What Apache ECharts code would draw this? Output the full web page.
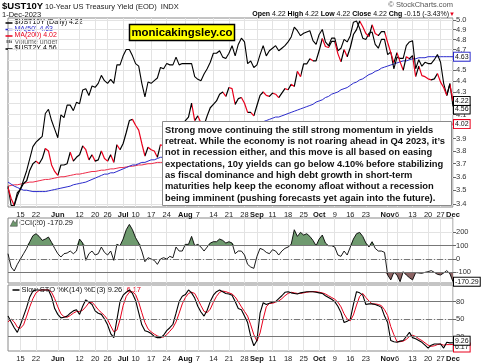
<!DOCTYPE html>
<html><head><meta charset="utf-8">
<script src="https://cdn.jsdelivr.net/npm/echarts@6/dist/echarts.min.js"></script>
<style>html,body{margin:0;padding:0;background:#fff}#c{width:482px;height:363px}</style>
</head><body><div id="c"></div>
<script>
const dates = ['5/9','5/10','5/11','5/12','5/15','5/16','5/17','5/18','5/19','5/22','5/23','5/24','5/25','5/26','5/30','5/31',
'6/1','6/2','6/5','6/6','6/7','6/8','6/9','6/12','6/13','6/14','6/15','6/16','6/20','6/21','6/22','6/23','6/26','6/27','6/28','6/29','6/30',
'7/3','7/5','7/6','7/7','7/10','7/11','7/12','7/13','7/14','7/17','7/18','7/19','7/20','7/21','7/24','7/25','7/26','7/27','7/28','7/31',
'8/1','8/2','8/3','8/4','8/7','8/8','8/9','8/10','8/11','8/14','8/15','8/16','8/17','8/18','8/21','8/22','8/23','8/24','8/25','8/28','8/29','8/30','8/31',
'9/1','9/5','9/6','9/7','9/8','9/11','9/12','9/13','9/14','9/15','9/18','9/19','9/20','9/21','9/22','9/25','9/26','9/27','9/28','9/29',
'10/2','10/3','10/4','10/5','10/6','10/9','10/10','10/11','10/12','10/13','10/16','10/17','10/18','10/19','10/20','10/23','10/24','10/25','10/26','10/27','10/30','10/31',
'11/1','11/2','11/3','11/6','11/7','11/8','11/9','11/10','11/13','11/14','11/15','11/16','11/17','11/20','11/21','11/22','11/24','11/27','11/28','11/29','11/30',
'12/1'];
const ust10y = [3.52,3.44,3.39,3.46,3.51,3.55,3.57,3.65,3.70,3.72,3.70,3.74,3.82,3.80,3.69,3.64,
3.61,3.69,3.69,3.70,3.79,3.72,3.75,3.77,3.84,3.81,3.73,3.77,3.72,3.73,3.80,3.74,3.72,3.77,3.71,3.85,3.81,
3.86,3.95,4.05,4.06,4.01,3.97,3.86,3.76,3.83,3.81,3.80,3.75,3.85,3.84,3.87,3.89,3.87,4.01,3.96,3.97,
4.05,4.08,4.20,4.05,4.09,4.03,4.01,4.09,4.16,4.19,4.22,4.28,4.30,4.26,4.34,4.33,4.19,4.24,4.25,4.20,4.12,4.12,4.09,
4.18,4.27,4.30,4.27,4.26,4.29,4.28,4.25,4.29,4.33,4.32,4.37,4.35,4.49,4.44,4.56,4.56,4.61,4.59,4.59,
4.69,4.81,4.73,4.72,4.78,4.78,4.66,4.58,4.70,4.63,4.72,4.85,4.90,4.99,4.93,4.86,4.83,4.95,4.86,4.84,4.88,4.88,
4.77,4.67,4.57,4.67,4.58,4.50,4.63,4.61,4.64,4.44,4.54,4.45,4.44,4.42,4.41,4.42,4.47,4.39,4.34,4.27,4.37,
4.22];
const ust2y = [4.02,3.90,3.90,3.98,4.00,4.06,4.12,4.20,4.28,4.31,4.33,4.35,4.51,4.54,4.46,4.40,
4.34,4.50,4.48,4.57,4.57,4.53,4.59,4.58,4.68,4.69,4.64,4.71,4.70,4.73,4.79,4.75,4.73,4.76,4.73,4.87,4.87,
4.94,4.99,4.99,4.94,4.88,4.86,4.73,4.63,4.74,4.73,4.75,4.77,4.85,4.84,4.88,4.87,4.87,4.93,4.87,4.88,
4.88,4.88,4.88,4.78,4.76,4.75,4.80,4.84,4.89,4.96,4.96,4.98,4.93,4.92,4.96,5.02,4.94,5.03,5.08,5.05,4.88,4.90,4.85,
4.87,4.95,5.02,4.94,4.98,5.00,5.02,4.98,5.00,5.02,5.05,5.09,5.17,5.14,5.10,5.12,5.13,5.14,5.06,5.03,
5.11,5.15,5.05,5.02,5.08,5.08,4.98,5.00,5.07,5.05,5.10,5.21,5.22,5.16,5.08,5.07,5.12,5.13,5.03,5.00,5.07,5.07,
4.95,4.97,4.84,4.93,4.92,4.92,5.02,5.05,5.06,4.84,4.91,4.86,4.89,4.88,4.88,4.91,4.95,4.89,4.73,4.64,4.73,
4.56];
const ma50 = [3.56,3.545,3.53,3.52,3.51,3.50,3.50,3.495,3.49,3.49,3.49,3.49,3.49,3.495,3.50,3.505,
3.51,3.515,3.52,3.525,3.53,3.54,3.545,3.55,3.555,3.56,3.57,3.58,3.59,3.60,3.61,3.62,3.62,3.63,3.63,3.64,3.65,
3.66,3.67,3.68,3.69,3.69,3.70,3.71,3.71,3.72,3.73,3.73,3.74,3.75,3.75,3.76,3.77,3.78,3.79,3.80,3.81,
3.82,3.83,3.84,3.85,3.86,3.86,3.87,3.88,3.89,3.89,3.90,3.91,3.92,3.93,3.94,3.94,3.95,3.96,3.97,3.98,3.99,4.00,4.01,
4.02,4.03,4.04,4.05,4.06,4.07,4.08,4.08,4.09,4.10,4.11,4.12,4.13,4.14,4.15,4.16,4.17,4.18,4.19,4.21,
4.22,4.23,4.25,4.26,4.28,4.29,4.30,4.32,4.33,4.34,4.36,4.38,4.39,4.41,4.42,4.44,4.46,4.47,4.49,4.50,4.52,4.53,
4.54,4.55,4.56,4.57,4.58,4.59,4.59,4.60,4.61,4.61,4.62,4.62,4.62,4.63,4.63,4.63,4.63,4.63,4.63,4.63,4.63,
4.63];
const ma200 = [3.53,3.535,3.54,3.54,3.545,3.55,3.555,3.56,3.56,3.565,3.57,3.575,3.58,3.58,3.585,3.59,
3.595,3.60,3.60,3.605,3.61,3.615,3.62,3.62,3.625,3.63,3.635,3.64,3.64,3.645,3.65,3.65,3.655,3.66,3.66,3.665,3.67,
3.67,3.675,3.68,3.68,3.685,3.69,3.69,3.695,3.70,3.70,3.705,3.71,3.71,3.71,3.72,3.72,3.73,3.73,3.73,3.74,
3.74,3.75,3.75,3.75,3.76,3.76,3.77,3.77,3.77,3.78,3.78,3.79,3.79,3.79,3.80,3.80,3.81,3.81,3.81,3.82,3.82,3.83,3.83,
3.83,3.84,3.84,3.85,3.85,3.85,3.86,3.86,3.87,3.87,3.87,3.88,3.88,3.89,3.89,3.89,3.90,3.90,3.91,3.91,
3.91,3.92,3.92,3.93,3.93,3.93,3.94,3.94,3.95,3.95,3.95,3.96,3.96,3.97,3.97,3.97,3.98,3.98,3.98,3.99,3.99,3.99,
4.00,4.00,4.00,4.00,4.01,4.01,4.01,4.01,4.01,4.01,4.02,4.02,4.02,4.02,4.02,4.02,4.02,4.02,4.02,4.02,4.02,
4.02];
const cci = [40,-60,-90,-40,0,40,80,130,175,190,170,140,150,165,125,80,
40,15,40,45,60,40,60,150,120,-10,40,60,30,40,90,50,30,60,-10,110,100,
150,220,260,220,160,120,60,-20,10,0,-10,-40,0,10,0,20,10,90,60,60,
110,110,170,100,110,90,60,90,120,130,130,150,140,120,130,120,40,60,60,30,-40,-60,-70,
20,80,70,50,40,70,60,30,60,80,90,110,220,170,200,180,190,170,140,100,
150,180,120,100,100,90,30,20,60,30,90,150,190,200,170,120,90,130,80,60,60,50,
-120,-157,-100,-120,-170,-95,-120,-140,-157,-102,-105,-107,-100,-95,-87,-100,-115,-120,-105,-87,-110,
-170.29];
const stoK = [55,45,35,27,40,55,70,88,98,100,100,100,100,100,88,68,
58,52,53,55,60,64,66,58,72,83,79,75,64,60,58,50,40,25,18,49,80,
91,96,100,94,82,61,40,30,28,25,20,18,18,22,30,35,41,60,80,89,
92,100,95,86,72,62,55,65,80,91,97,100,97,94,93,91,80,68,66,55,44,20,4,
13,60,78,75,77,79,80,85,90,96,97,95,94,93,95,96,97,97,97,96,
95,94,90,87,84,80,72,61,44,46,50,75,97,95,91,75,76,76,75,73,70,55,
44,13,11,10,12,13,20,27,18,16,13,10,5,0,5,7,7,7,0,10,9,
9.26];
const stoD = [45,50,45,36,34,40,55,71,85,95,99,100,100,100,96,85,
71,59,54,53,56,60,63,63,65,71,78,79,73,66,61,56,49,38,28,31,49,
73,89,96,97,92,79,61,44,33,28,24,21,19,19,23,29,35,45,60,76,
87,94,96,94,84,73,63,61,67,79,89,96,98,97,95,93,88,80,71,63,55,40,23,
12,26,50,71,77,77,79,81,85,90,94,96,95,94,94,95,96,97,97,97,
96,95,93,90,87,84,79,71,59,50,47,57,74,89,94,87,81,76,76,75,73,66,
56,37,23,11,11,12,15,20,22,20,16,13,9,5,3,4,6,7,5,6,6,
6.17];
const tickDates  = ['5/15','5/22','6/1','6/12','6/20','6/26','7/3','7/10','7/17','7/24','8/1','8/7','8/14','8/21','8/28','9/1','9/11','9/18','9/25','10/2','10/9','10/16','10/23','11/1','11/6','11/13','11/20','11/27','12/1'];
const tickLabels = ['15','22','Jun','12','20','26','Jul','10','17','24','Aug','7','14','21','28','Sep','11','18','25','Oct','9','16','23','Nov','6','13','20','27','Dec'];
const mainTicks = [3.4,3.5,3.6,3.7,3.8,3.9,4.0,4.1,4.2,4.3,4.4,4.5,4.6,4.7,4.8,4.9,5.0];
const mainLabels = [3.4,3.5,3.6,3.7,3.8,3.9,4.1,4.3,4.4,4.5,4.7,4.8,4.9,5.0];
const cciLevels = [200,100,0,-100];
const stoLevels = [80,50,20];

const FONT = '"Liberation Sans", Arial, sans-serif';
const RED = '#e8001c', BLUE = '#2b2bcc', MARED = '#ee2a48';
const mainMin = 3.379, mainMax = 5.021;
// overlay ($UST2Y) uses its own scale, spanning the same range as the main line
const mn10 = Math.min(...ust10y), mx10 = Math.max(...ust10y);
const mn2 = Math.min(...ust2y), mx2 = Math.max(...ust2y);
const kk = Math.log(mx2 / mn2) / Math.log(mx10 / mn10);
const min2 = mn2 * Math.pow(mainMin / mn10, kk), max2 = mx2 * Math.pow(mainMax / mx10, kk);

const n = dates.length;
const last = a => a[a.length - 1];
// segment colours: red on falling days, black on rising days
const pieces = [];
for (let i = 0; i < n - 1; i++) {
  const col = ust10y[i + 1] < ust10y[i] ? RED : '#000';
  const p = pieces[pieces.length - 1];
  if (p && p.color === col) p.lte = i + 1; else pieces.push({gte: i, lte: i + 1, color: col});
}
for (let i = 1; i < pieces.length; i++) { pieces[i].gt = pieces[i].gte; delete pieces[i].gte; }

const tickSet = new Set(tickDates);
const tickMap = {}; tickDates.forEach((d, i) => tickMap[d] = tickLabels[i]);
const isMonth = t => /[A-Za-z]/.test(t);
function xAx(gi, showLabel) {
  return {type: 'category', gridIndex: gi, data: dates, boundaryGap: false,
    axisLine: {show: false}, axisTick: {show: false},
    axisLabel: {show: showLabel, interval: (i, v) => tickSet.has(v), margin: 4,
      formatter: v => { const t = tickMap[v] || ''; return isMonth(t) ? '{m|' + t + '}' : t; },
      fontSize: 7.5, color: '#222', fontFamily: FONT,
      rich: {m: {fontWeight: 'bold', fontSize: 7.5, fontFamily: FONT, color: '#111'}}},
    splitLine: {show: true, interval: (i, v) => tickSet.has(v), lineStyle: {color: '#e3e3e3', width: 1}}};
}
const axLabel = {fontSize: 7.5, color: '#333', fontFamily: FONT, margin: 3};
const tag = (border, color) => ({show: true, distance: 1, fontSize: 7, fontFamily: FONT, color: color || '#111',
  backgroundColor: '#fff', borderColor: border, borderWidth: 1, padding: [0, 1, 0, 1], lineHeight: 8});

const chart = echarts.init(document.getElementById('c'), null, {renderer: 'canvas'});
const annText = ['Strong move continuing the still strong momentum in yields',
 'retreat. While the economy is not roaring ahead in Q4 2023, it\u2019s',
 'not in recession either, and this move is all based on easing',
 'expectations, 10y yields can go below 4.10% before stabilizing',
 'as fiscal dominance and high debt growth in short-term',
 'maturities help keep the economy afloat without a recession',
 'being imminent (pushing forecasts yet again into the future).'].join('\n');
const chg = last(ust10y) - ust10y[n - 2];
const chgPct = chg / ust10y[n - 2] * 100;

chart.setOption({
  animation: false,
  backgroundColor: '#fff',
  grid: [
    {left: 8, right: 29, top: 18, height: 189, show: true, borderColor: '#8a8a8a', borderWidth: 1},
    {left: 8, right: 29, top: 218, height: 65, show: true, borderColor: '#8a8a8a', borderWidth: 1},
    {left: 8, right: 29, top: 285, height: 67, show: true, borderColor: '#8a8a8a', borderWidth: 1}
  ],
  xAxis: [xAx(0, true), xAx(1, false), xAx(2, true)],
  yAxis: [
    {type: 'log', gridIndex: 0, position: 'right', min: mainMin, max: mainMax,
      axisLine: {show: false},
      axisTick: {show: true, length: 3, customValues: mainTicks, lineStyle: {color: '#666'}},
      axisLabel: Object.assign({customValues: mainLabels, formatter: v => (+v).toFixed(1)}, axLabel),
      splitLine: {show: true, lineStyle: {color: '#e3e3e3'}}},
    {type: 'log', gridIndex: 0, min: min2, max: max2, show: false},
    {type: 'value', gridIndex: 1, position: 'right', min: -180, max: 308,
      axisLine: {show: false},
      axisTick: {show: true, length: 3, customValues: cciLevels, lineStyle: {color: '#666'}},
      axisLabel: Object.assign({customValues: cciLevels}, axLabel),
      splitLine: {show: true, lineStyle: {color: '#e3e3e3'}}},
    {type: 'value', gridIndex: 2, position: 'right', min: -5, max: 108.5,
      axisLine: {show: false},
      axisTick: {show: true, length: 3, customValues: stoLevels, lineStyle: {color: '#666'}},
      axisLabel: Object.assign({customValues: stoLevels}, axLabel),
      splitLine: {show: true, lineStyle: {color: '#e3e3e3'}}}
  ],
  visualMap: [{type: 'piecewise', show: false, seriesIndex: 3, dimension: 0, pieces: pieces, outOfRange: {color: '#000'}}],
  series: [
    {name: 'MA(200)', type: 'line', xAxisIndex: 0, yAxisIndex: 0, data: ma200, showSymbol: false, z: 2,
      lineStyle: {color: MARED, width: 1}, itemStyle: {color: MARED},
      endLabel: Object.assign(tag(RED), {formatter: p => (+p.value).toFixed(2)})},
    {name: 'MA(50)', type: 'line', xAxisIndex: 0, yAxisIndex: 0, data: ma50, showSymbol: false, z: 2,
      lineStyle: {color: BLUE, width: 1}, itemStyle: {color: BLUE},
      endLabel: Object.assign(tag(BLUE), {formatter: p => (+p.value).toFixed(2)})},
    {name: '$UST2Y', type: 'line', xAxisIndex: 0, yAxisIndex: 1, data: ust2y, showSymbol: false, z: 3,
      lineStyle: {color: '#000', width: 1.1}, itemStyle: {color: '#000'},
      endLabel: Object.assign(tag('#000'), {formatter: p => (+p.value).toFixed(2), offset: [0, 3]})},
    {name: '$UST10Y', type: 'line', xAxisIndex: 0, yAxisIndex: 0, data: ust10y, showSymbol: false, z: 4,
      lineStyle: {width: 1.2},
      endLabel: Object.assign(tag('#000'), {formatter: p => (+p.value).toFixed(2)})},
    // CCI
    {name: 'cciUp', type: 'line', xAxisIndex: 1, yAxisIndex: 2, data: cci.map(v => Math.max(v, 100)), showSymbol: false,
      lineStyle: {width: 0}, areaStyle: {origin: 100, color: '#6f9a6f', opacity: 1}, z: 2, silent: true},
    {name: 'cciDn', type: 'line', xAxisIndex: 1, yAxisIndex: 2, data: cci.map(v => Math.min(v, -100)), showSymbol: false,
      lineStyle: {width: 0}, areaStyle: {origin: -100, color: '#8c6464', opacity: 1}, z: 2, silent: true},
    {name: 'CCI(20)', type: 'line', xAxisIndex: 1, yAxisIndex: 2, data: cci, showSymbol: false, z: 3,
      lineStyle: {color: '#000', width: 0.9}, itemStyle: {color: '#000'},
      endLabel: Object.assign(tag('#000'), {formatter: p => (+p.value).toFixed(2)}),
      markLine: {silent: true, symbol: 'none', label: {show: false}, animation: false,
        data: [{yAxis: 100, lineStyle: {color: '#777', type: 'solid', width: 1}},
               {yAxis: -100, lineStyle: {color: '#777', type: 'solid', width: 1}},
               {yAxis: 0, lineStyle: {color: '#777', type: [6, 2, 1, 2], width: 1}}]}},
    // Slow STO
    {name: '%D', type: 'line', xAxisIndex: 2, yAxisIndex: 3, data: stoD, showSymbol: false, z: 3,
      lineStyle: {color: RED, width: 1}, itemStyle: {color: RED},
      endLabel: Object.assign(tag(RED), {formatter: p => (+p.value).toFixed(2), offset: [0, 3]})},
    {name: '%K', type: 'line', xAxisIndex: 2, yAxisIndex: 3, data: stoK, showSymbol: false, z: 4,
      lineStyle: {color: '#000', width: 1.1}, itemStyle: {color: '#000'},
      endLabel: Object.assign(tag('#000'), {formatter: p => (+p.value).toFixed(2), offset: [0, -2]}),
      markLine: {silent: true, symbol: 'none', label: {show: false}, animation: false,
        data: [{yAxis: 80, lineStyle: {color: '#777', type: 'solid', width: 1}},
               {yAxis: 20, lineStyle: {color: '#777', type: 'solid', width: 1}},
               {yAxis: 50, lineStyle: {color: '#777', type: [6, 2, 1, 2], width: 1}}]}}
  ],
  graphic: [
    {type: 'text', left: 2, top: 1.5, z: 100, style: {text: '$UST10Y', font: 'bold 9.5px ' + FONT, fill: '#000'}},
    {type: 'text', left: 45, top: 2.5, z: 100, style: {text: '10-Year US Treasury Yield (EOD)  INDX', font: '7.5px ' + FONT, fill: '#222'}},
    {type: 'text', left: 2, top: 11, z: 100, style: {text: '1-Dec-2023', font: '7.5px ' + FONT, fill: '#222'}},
    {type: 'text', right: 29, top: 1, z: 100, style: {text: '\u00a9 StockCharts.com', font: '7.5px ' + FONT, fill: '#555'}},
    {type: 'text', right: 27, top: 10.5, z: 100, style: {
      text: '{b|Open} ' + last(ust10y).toFixed(2) + ' {b|High} ' + last(ust10y).toFixed(2) + ' {b|Low} ' + last(ust10y).toFixed(2) +
            ' {b|Close} ' + last(ust10y).toFixed(2) + ' {b|Chg} ' + chg.toFixed(2) + ' (' + chgPct.toFixed(2) + '%){r|\u25bc}',
      font: '7px ' + FONT, fill: '#111',
      rich: {b: {font: 'bold 7px ' + FONT, fill: '#000'}, r: {font: '6px ' + FONT, fill: RED}}}},
    // legend
    {type: 'group', left: 3, top: 19, z: 100, children: [
      {type: 'line', shape: {x1: 0, y1: 4, x2: 7, y2: 4}, style: {stroke: '#000', lineWidth: 1.5}},
      {type: 'text', x: 9, y: 0, style: {text: '$UST10Y (Daily) ' + last(ust10y).toFixed(2), font: '7px ' + FONT, fill: '#000'}},
      {type: 'line', shape: {x1: 0, y1: 10.5, x2: 7, y2: 10.5}, style: {stroke: BLUE, lineWidth: 1.5}},
      {type: 'text', x: 9, y: 6.5, style: {text: 'MA(50) ' + last(ma50).toFixed(2), font: '7px ' + FONT, fill: BLUE}},
      {type: 'line', shape: {x1: 0, y1: 17, x2: 7, y2: 17}, style: {stroke: RED, lineWidth: 1.5}},
      {type: 'text', x: 9, y: 13, style: {text: 'MA(200) ' + last(ma200).toFixed(2), font: '7px ' + FONT, fill: RED}},
      {type: 'rect', shape: {x: 1, y: 21, width: 1.5, height: 3}, style: {fill: '#777'}},
      {type: 'rect', shape: {x: 3, y: 20, width: 1.5, height: 4}, style: {fill: '#777'}},
      {type: 'rect', shape: {x: 5, y: 21.5, width: 1.5, height: 2.5}, style: {fill: '#777'}},
      {type: 'text', x: 9, y: 19.5, style: {text: 'Volume undef', font: '7px ' + FONT, fill: '#666'}},
      {type: 'line', shape: {x1: 0, y1: 30, x2: 7, y2: 30}, style: {stroke: '#000', lineWidth: 1.5}},
      {type: 'text', x: 9, y: 26, style: {text: '$UST2Y ' + last(ust2y).toFixed(2), font: '7px ' + FONT, fill: '#000'}}
    ]},
    // watermark box
    {type: 'rect', z: 100, shape: {x: 129.5, y: 24.5, width: 105, height: 16}, style: {fill: '#ffff00', stroke: '#000', lineWidth: 1.5}},
    {type: 'text', z: 101, x: 182, y: 32.8, style: {text: 'monicakingsley.co', font: 'bold 11.4px ' + FONT, fill: '#000', align: 'center', verticalAlign: 'middle'}},
    // annotation box
    {type: 'rect', z: 100, shape: {x: 162.5, y: 121.5, width: 289, height: 84}, style: {fill: '#fff', stroke: '#8a8a8a', lineWidth: 1}},
    {type: 'text', z: 101, x: 165, y: 124.5, style: {text: annText, font: 'bold 9.4px ' + FONT, fill: '#111', lineHeight: 11.3}},
    // panel legends
    {type: 'group', left: 10, top: 219, z: 100, children: [
      {type: 'polygon', shape: {points: [[0, 7], [3, 1], [5, 4], [7, 0], [7, 7]]}, style: {fill: '#6f9a6f', stroke: '#333', lineWidth: 0.5}},
      {type: 'text', x: 9, y: 0, style: {text: 'CCI(20) ' + last(cci).toFixed(2), font: '7.5px ' + FONT, fill: '#111'}}
    ]},
    {type: 'group', left: 10, top: 286, z: 100, children: [
      {type: 'line', shape: {x1: 0, y1: 4, x2: 7, y2: 4}, style: {stroke: '#000', lineWidth: 1.5}},
      {type: 'text', x: 9, y: 0, style: {text: 'Slow STO %K(14) %D(3) ' + last(stoK).toFixed(2) + ', {r|' + last(stoD).toFixed(2) + '}',
        font: '7.5px ' + FONT, fill: '#111', rich: {r: {font: '7.5px ' + FONT, fill: RED}}}}
    ]}
  ]
});
</script></body></html>
